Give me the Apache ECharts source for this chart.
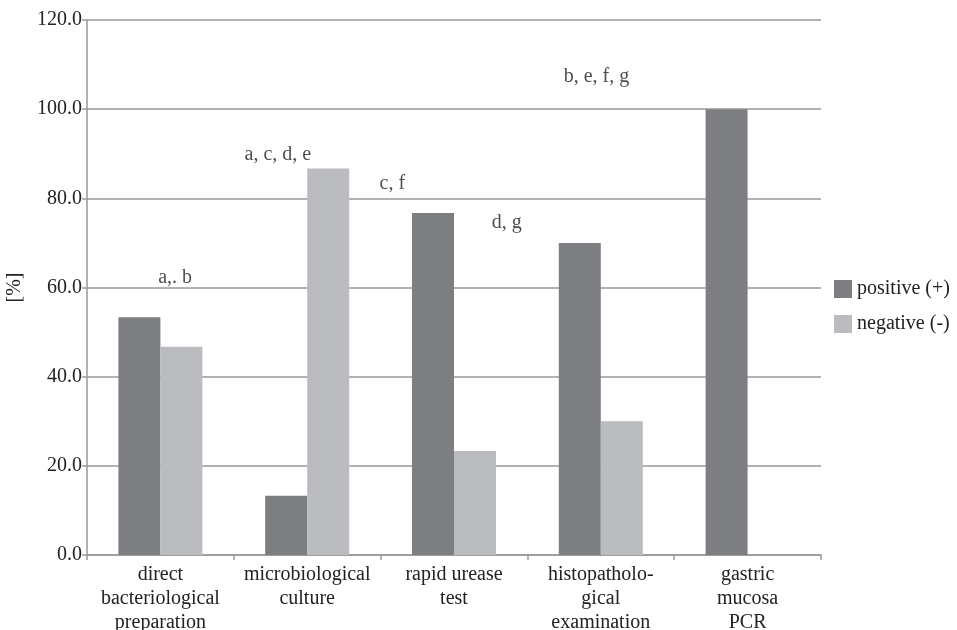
<!DOCTYPE html>
<html><head><meta charset="utf-8">
<script src="https://cdn.jsdelivr.net/npm/echarts@6/dist/echarts.min.js"></script>
<style>html,body{margin:0;padding:0;background:#fff}#c{width:957px;height:630px}</style>
</head><body><div id="c"></div>
<script>
var categories = ['direct\nbacteriological\npreparation', 'microbiological\nculture', 'rapid urease\ntest', 'histopatholo-\ngical\nexamination', 'gastric\nmucosa\nPCR'];
var positiveValues = [53.3, 13.3, 76.7, 70.0, 100.0];
var negativeValues = [46.7, 86.7, 23.3, 30.0, 0];
var seriesNames = ['positive (+)', 'negative (-)'];
var yTicks = [0, 20, 40, 60, 80, 100, 120];
// annotation: [x position in category units, y value, text]
var annotations = [[0.10, 62.1, 'a,. b'], [0.80, 89.7, 'a, c, d, e'], [1.58, 83.2, 'c, f'], [2.36, 74.5, 'd, g'], [2.97, 107.2, 'b, e, f, g']];

var font = 'Liberation Serif';
var fs = 20;
var chart = echarts.init(document.getElementById('c'));
chart.setOption({
  animation: false,
  backgroundColor: '#fff',
  textStyle: {fontFamily: font},
  grid: {left: 87, right: 136, top: 20, bottom: 75, containLabel: false, outerBoundsMode: 'none'},
  legend: {
    orient: 'vertical', left: 829, top: 274,
    itemWidth: 18, itemHeight: 18, itemGap: 15,
    icon: 'rect',
    textStyle: {fontFamily: font, fontSize: fs, color: '#222'},
    data: seriesNames
  },
  xAxis: [{
    type: 'category', data: categories,
    axisLine: {lineStyle: {color: '#999', width: 1.5}},
    axisTick: {show: true, length: 5, lineStyle: {color: '#999', width: 1.5}},
    axisLabel: {fontFamily: font, fontSize: fs, color: '#222', lineHeight: 24, margin: 8, interval: 0}
  }, {
    type: 'value', min: -0.5, max: 4.5, show: false
  }],
  yAxis: {
    type: 'value', min: yTicks[0], max: yTicks[yTicks.length - 1], interval: 20,
    name: '[%]', nameLocation: 'middle', nameGap: 62,
    nameTextStyle: {fontFamily: font, fontSize: fs, color: '#222'},
    axisLine: {show: true, onZero: false, lineStyle: {color: '#999', width: 1.5}},
    axisTick: {show: true, length: 5, lineStyle: {color: '#999', width: 1.5}},
    splitLine: {lineStyle: {color: '#999', width: 1.5}},
    axisLabel: {fontFamily: font, fontSize: fs, color: '#222', margin: 5, formatter: function (v) { return v.toFixed(1); }}
  },
  series: [{
    name: seriesNames[0], type: 'bar', data: positiveValues,
    barWidth: 42, barGap: '0%',
    itemStyle: {color: '#7d7e82'}
  }, {
    name: seriesNames[1], type: 'bar', data: negativeValues,
    barWidth: 42,
    itemStyle: {color: '#bbbcc0'}
  }, {
    type: 'scatter', xAxisIndex: 1, symbolSize: 0, silent: true,
    data: annotations.map(function (a) { return {value: [a[0], a[1]], text: a[2]}; }),
    label: {show: true, position: 'inside', fontFamily: font, fontSize: fs, color: '#222',
      formatter: function (p) { return p.data.text; }}
  }]
});
</script></body></html>
